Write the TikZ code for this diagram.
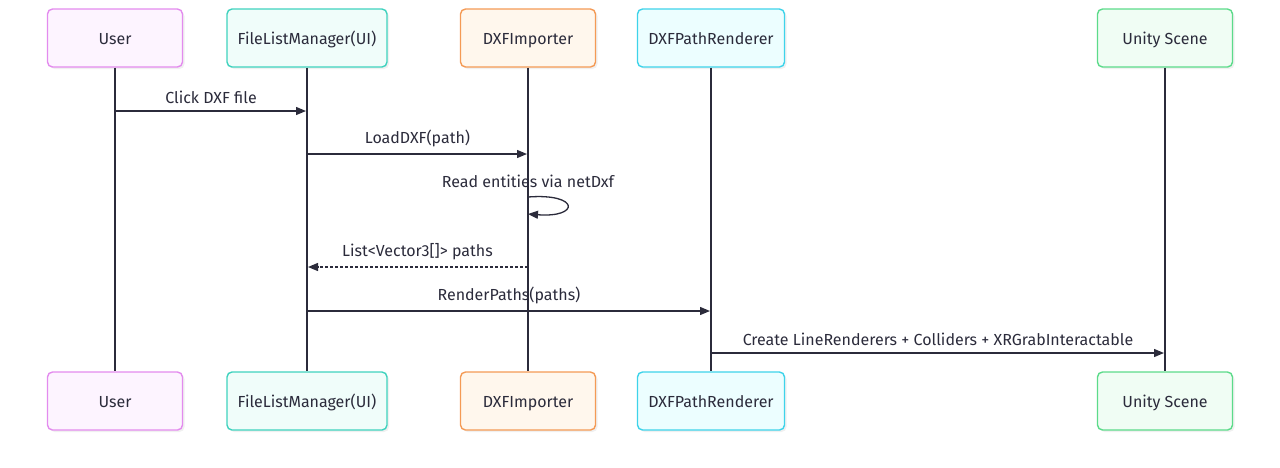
\documentclass[tikz,border=0pt]{standalone}
\usepackage{fontspec}
\setmainfont{Fira Sans}
\usetikzlibrary{arrows.meta,shadows}
\definecolor{inkline}{HTML}{2B2B3B}
\definecolor{userfill}{HTML}{FDF4FF}\definecolor{userdraw}{HTML}{E38BEE}
\definecolor{flmfill}{HTML}{F0FDFA}\definecolor{flmdraw}{HTML}{3FD2BE}
\definecolor{impfill}{HTML}{FFF7ED}\definecolor{impdraw}{HTML}{F49A55}
\definecolor{rndfill}{HTML}{ECFEFF}\definecolor{rnddraw}{HTML}{3ED3EA}
\definecolor{scnfill}{HTML}{F0FDF4}\definecolor{scndraw}{HTML}{5CDB8A}
\begin{document}
\begin{tikzpicture}
[x=1pt,y=-1pt,font=\fontsize{16}{19}\selectfont,text=inkline,
  actordecorate/.style={shape=rectangle,rounded corners=5pt,line width=1.4pt,
    minimum height=58pt,inner sep=0pt,text height=15pt,text depth=3pt,
    drop shadow={opacity=0.12,shadow xshift=2pt,shadow yshift=-2pt}},
  lifedecorate/.style={-,draw=inkline,line width=1.3pt},
  msgdecorate/.style={draw=inkline,line width=1.3pt,-{Triangle[length=10pt,width=8pt]}},
  replydecorate/.style={msgdecorate,dash pattern=on 3pt off 2pt}]
\useasboundingbox (0,0) rectangle (1280,467);
%% actors, top and bottom
\foreach \nodename/\x/\w/\c/\txt in {user/115/135/user/User,
    flm/307/160/flm/{FileListManager(UI)}, imp/528/135/imp/DXFImporter,
    rnd/711/147/rnd/DXFPathRenderer, scn/1165/135/scn/Unity Scene} {
  \node (top\nodename) at (\x,38) [actordecorate,minimum width=\w pt,
    draw=\c draw,fill=\c fill] {\txt};
  \node (bot\nodename) at (\x,401) [actordecorate,minimum width=\w pt,
    draw=\c draw,fill=\c fill] {\txt};
  \draw[lifedecorate] (top\nodename.south) -- (bot\nodename.north);
}
%% message ends on the lifelines
\foreach \pname/\actor/\y in {m1s/user/111, m1e/flm/111, m2s/flm/154, m2e/imp/154,
    m3s/imp/197, m3e/imp/214, m4s/imp/267, m4e/flm/267, m5s/flm/311, m5e/rnd/311,
    m6s/rnd/353, m6e/scn/353} {
  \coordinate (\pname) at (top\actor.south |- 0,\y);
}
%% messages
\draw[msgdecorate,shorten >=1pt] (m1s) -- node[above=3pt] {Click DXF file} (m1e);
\draw[msgdecorate,shorten >=1pt] (m2s) -- node[above=3pt] {LoadDXF(path)} (m2e);
\node (m3lbl) at (528,181) {Read entities via netDxf};
\draw[msgdecorate] (m3s) .. controls (580,193) and (580,218) .. (m3e);
\draw[replydecorate,shorten >=1pt] (m4s) -- node[above=3pt] {List<Vector3[]> paths} (m4e);
\draw[msgdecorate,shorten >=1pt] (m5s) -- node[above=3pt] {RenderPaths(paths)} (m5e);
\draw[msgdecorate,shorten >=1pt] (m6s) -- node[above=3pt]
  {Create LineRenderers + Colliders + XRGrabInteractable} (m6e);
\end{tikzpicture}
\end{document}
